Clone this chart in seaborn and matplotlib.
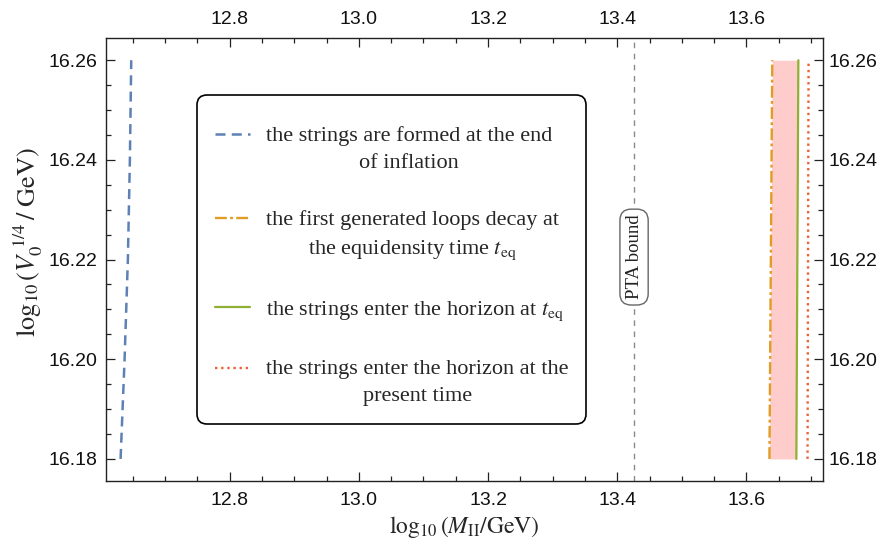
import numpy as np
import pandas as pd
import matplotlib
matplotlib.use("Agg")
import matplotlib.pyplot as plt
import seaborn as sns
from matplotlib.ticker import MultipleLocator, FormatStrFormatter

# ---------------- data ----------------
blue_y = [16.18, 16.20, 16.22, 16.24, 16.26]
blue_x = [12.6310, 12.6372, 12.6423, 12.6454, 12.6475]
orange_y = [16.18, 16.26]
orange_x = [13.6356, 13.6400]
green_y = [16.18, 16.26]
green_x = [13.6773, 13.6804]
red_y = [16.18, 16.26]
red_x = [13.6946, 13.6962]
pta_x = 13.426

labels = [
    "the strings are formed at the end\nof inflation",
    "the first generated loops decay at\nthe equidensity time $t_{\\rm eq}$",
    "the strings enter the horizon at $t_{\\rm eq}$",
    "the strings enter the horizon at the\npresent time",
]
x_ticks = [12.8, 13.0, 13.2, 13.4, 13.6]
y_ticks = [16.18, 16.20, 16.22, 16.24, 16.26]
xlim = (12.608, 13.719)
ylim = (16.1755, 16.2644)

# ---------------- style ----------------
sns.set_style("ticks")
plt.rcParams["font.family"] = ["Liberation Serif", "DejaVu Serif"]
plt.rcParams["mathtext.fontset"] = "stix"

C_BLUE = "#5E81B5"
C_ORANGE = "#E19C24"
C_GREEN = "#8FB032"
C_RED = "#EB6235"
C_PINK = "#FFCCCC"

fig = plt.figure(figsize=(8.81, 5.47), dpi=100)
ax = fig.add_axes([0.120, 0.120, 0.8145, 0.810])

# shaded band between orange and green lines
ax.fill_betweenx(orange_y, orange_x, green_x, color=C_PINK, lw=0, zorder=1)

# PTA bound
ax.axvline(pta_x, color="#8a8a8a", lw=1.0, linestyle=(0, (4, 4)), zorder=2)

sns.lineplot(x=blue_x, y=blue_y, sort=False, estimator=None, ax=ax, color=C_BLUE,
             lw=1.8, linestyle=(0, (4, 2.5)), label=labels[0], zorder=3)
sns.lineplot(x=orange_x, y=orange_y, sort=False, estimator=None, ax=ax, color=C_ORANGE,
             lw=1.7, linestyle=(0, (5, 1.4, 1.2, 1.4)), label=labels[1], zorder=3)
sns.lineplot(x=green_x, y=green_y, sort=False, estimator=None, ax=ax, color=C_GREEN,
             lw=1.6, linestyle="-", label=labels[2], zorder=3)
sns.lineplot(x=red_x, y=red_y, sort=False, estimator=None, ax=ax, color=C_RED,
             lw=1.7, linestyle=(0, (1, 1.6)), label=labels[3], zorder=3)

ax.text(pta_x, 16.2205, "PTA bound", rotation=90, ha="center", va="center", fontsize=13.5,
        color="#222222", zorder=4,
        bbox=dict(boxstyle="round,pad=0.3,rounding_size=0.6", fc="white", ec="#666666", lw=1.0))

ax.set_xlim(*xlim)
ax.set_ylim(*ylim)

tick_font = "Liberation Sans"
ax.set_xticks(x_ticks)
ax.set_yticks(y_ticks)
ax.xaxis.set_minor_locator(MultipleLocator(0.05))
ax.yaxis.set_minor_locator(MultipleLocator(0.005))
ax.xaxis.set_major_formatter(FormatStrFormatter("%.1f"))
ax.yaxis.set_major_formatter(FormatStrFormatter("%.2f"))
ax.tick_params(which="both", direction="in", top=True, right=True, width=0.9, color="#222222")
ax.tick_params(which="major", length=6.5)
ax.tick_params(which="minor", length=3.6)
ax.tick_params(axis="x", labelsize=14, pad=7.5, labeltop=True, labelbottom=True, labelcolor="#111111")
ax.tick_params(axis="y", labelsize=14, pad=6, labelleft=True, labelright=False, labelcolor="#111111")
for lab in ax.get_xticklabels() + ax.get_yticklabels():
    lab.set_fontfamily(tick_font)

sec = ax.secondary_yaxis("right")
sec.set_yticks(y_ticks)
sec.yaxis.set_major_formatter(FormatStrFormatter("%.2f"))
sec.tick_params(axis="y", which="both", direction="in", length=0, labelsize=14, pad=3.5,
                labelcolor="#111111")
for lab in sec.get_yticklabels():
    lab.set_fontfamily(tick_font)
sec.spines["right"].set_visible(False)

for s in ax.spines.values():
    s.set_linewidth(1.0)
    s.set_color("#222222")

ax.set_xlabel(r"$\log_{10}(M_{\rm II}/{\rm GeV})$", fontsize=17, va="center")
ax.set_ylabel(r"$\log_{10}(V_0^{\ 1/4}\,/\ {\rm GeV})$", fontsize=19, va="center")
ax.xaxis.set_label_coords(0.5, -0.103)
ax.yaxis.set_label_coords(-0.108, 0.54)

leg = ax.legend(loc="upper left", bbox_to_anchor=(0.1272, 0.872), borderaxespad=0,
                fontsize=16, frameon=True, fancybox=True, handlelength=1.6,
                handletextpad=0.7, labelspacing=1.68, borderpad=0.8,
                title=" ", title_fontsize=4)
leg.get_frame().set_edgecolor("black")
leg.get_frame().set_linewidth(1.2)
leg.get_frame().set_alpha(1)
leg.get_frame().set_boxstyle("round,pad=0,rounding_size=0.45")
for t in leg.get_texts():
    t.set_multialignment("center")
    t.set_linespacing(1.55)
try:
    leg._legend_box.sep = 6
    for col in leg._legend_handle_box.get_children():
        for item in col.get_children():
            item.align = "top"
except Exception:
    pass

fig.savefig("out.png", dpi=100)
